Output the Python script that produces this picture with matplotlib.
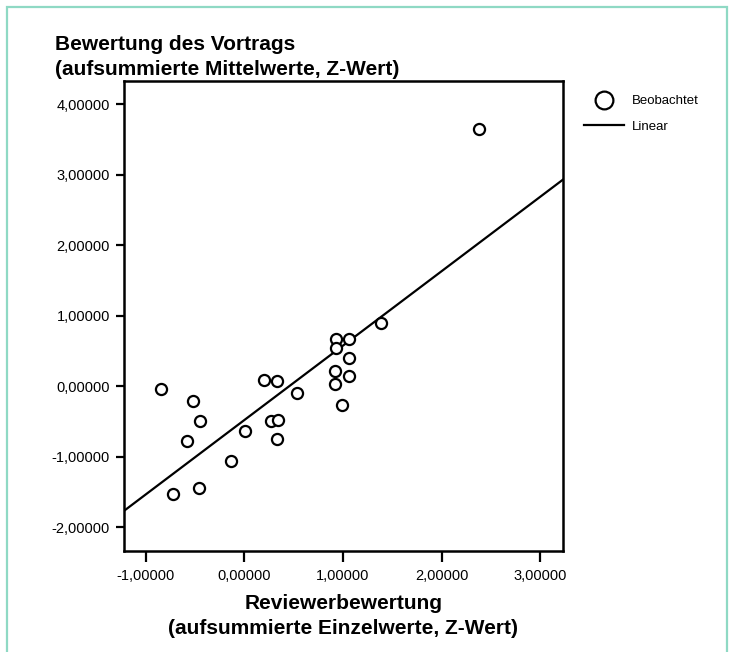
import numpy as np
import matplotlib
matplotlib.use("Agg")
import matplotlib.pyplot as plt
from matplotlib.patches import Rectangle

plt.rcParams["font.family"] = ["Liberation Sans", "DejaVu Sans"]

# Reviewerbewertung (x) und Bewertung des Vortrags (y)
x_werte = [-0.848, -0.520, -0.455, -0.587, -0.723, -0.462, -0.135, 0.001,
           0.200, 0.332, 0.265, 0.336, 0.329, 0.528, 0.924, 0.927, 1.056,
           1.056, 0.920, 0.920, 1.056, 0.985, 1.383, 2.377]
y_werte = [-0.042, -0.218, -0.495, -0.774, -1.538, -1.439, -1.061, -0.637,
           0.089, 0.079, -0.501, -0.477, -0.750, -0.095, 0.674, 0.542, 0.669,
           0.400, 0.212, 0.037, 0.142, -0.269, 0.896, 3.642]

# lineare Anpassung
steigung = 1.055
achsenabschnitt = -0.48

x_ticks = [-1, 0, 1, 2, 3]
y_ticks = [-2, -1, 0, 1, 2, 3, 4]

fig = plt.figure(figsize=(7.33, 6.52), dpi=100)
ax = fig.add_axes([124/733, 101/652, 439/733, 470/652])

ax.set_xlim(-1.223, 3.233)
ax.set_ylim(-2.34, 4.33)

xl = np.array(ax.get_xlim())
ax.plot(xl, steigung*xl + achsenabschnitt, color="black", lw=1.6, label="Linear")
ax.plot(x_werte, y_werte, "o", mfc="white", mec="black", ms=8, mew=1.6,
        linestyle="none", label="Beobachtet")

ax.set_xticks(x_ticks)
ax.set_yticks(y_ticks)
fmt = lambda v: ("%.5f" % v).replace(".", ",")
ax.set_xticklabels([fmt(v) for v in x_ticks])
ax.set_yticklabels([fmt(v) for v in y_ticks])
ax.tick_params(axis="both", direction="out", width=1.6, labelsize=10.5)
ax.tick_params(axis="x", length=8, pad=5)
ax.tick_params(axis="y", length=6, pad=4)
for s in ax.spines.values():
    s.set_linewidth(1.8)

ax.set_xlabel("Reviewerbewertung\n(aufsummierte Einzelwerte, Z-Wert)",
              fontsize=15, fontweight="bold", linespacing=1.4, labelpad=8)
fig.text(55/733, (652-75)/652,
         "Bewertung des Vortrags\n(aufsummierte Mittelwerte, Z-Wert)",
         fontsize=15, fontweight="bold", ha="left", va="baseline", linespacing=1.38)

h, l = ax.get_legend_handles_labels()
fig.legend([h[1], h[0]], [l[1], l[0]], loc="upper left",
           bbox_to_anchor=(584/733, (652-95)/652), frameon=False, fontsize=9.5,
           handlelength=3, handletextpad=0.6, labelspacing=1.0, markerscale=1.6,
           borderaxespad=0, borderpad=0)

# Rahmen
fig.patches.append(Rectangle((7/733, -0.05), 720/733, 0.05 + 645/652,
                             transform=fig.transFigure, fill=False,
                             edgecolor="#8fd9c4", lw=1.6))

fig.savefig("out.png", dpi=100)
